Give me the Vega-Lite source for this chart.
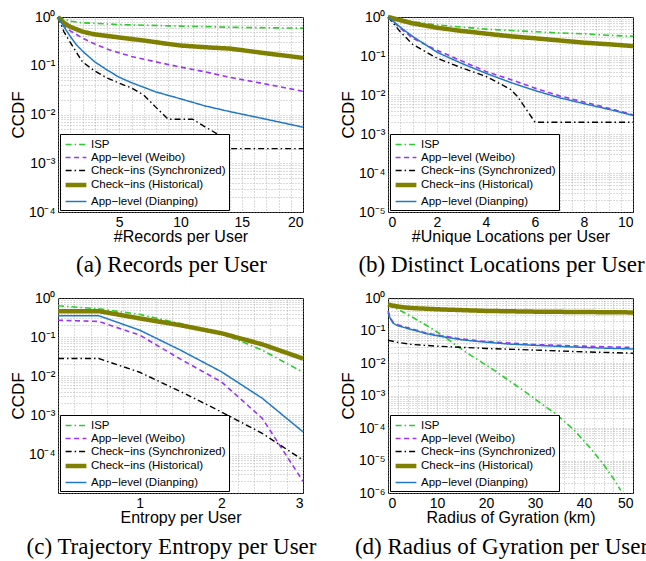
{
  "$schema": "https://vega.github.io/schema/vega-lite/v6.json",
  "padding": {"left": 8, "top": 7, "right": 0, "bottom": 0},
  "background": "white",
  "datasets": {
    "a": [
      {"s": "ISP", "x": 0, "y": 1}, {"s": "ISP", "x": 1, "y": 0.82}, {"s": "ISP", "x": 2, "y": 0.76}, {"s": "ISP", "x": 5, "y": 0.7}, {"s": "ISP", "x": 10, "y": 0.65}, {"s": "ISP", "x": 15, "y": 0.61}, {"s": "ISP", "x": 20, "y": 0.59},
      {"s": "App−level (Weibo)", "x": 0, "y": 1}, {"s": "App−level (Weibo)", "x": 0.7, "y": 0.58}, {"s": "App−level (Weibo)", "x": 1, "y": 0.52}, {"s": "App−level (Weibo)", "x": 2, "y": 0.37}, {"s": "App−level (Weibo)", "x": 3, "y": 0.28}, {"s": "App−level (Weibo)", "x": 4, "y": 0.22}, {"s": "App−level (Weibo)", "x": 6, "y": 0.155}, {"s": "App−level (Weibo)", "x": 8, "y": 0.12}, {"s": "App−level (Weibo)", "x": 10, "y": 0.094}, {"s": "App−level (Weibo)", "x": 12, "y": 0.075}, {"s": "App−level (Weibo)", "x": 14, "y": 0.058}, {"s": "App−level (Weibo)", "x": 17, "y": 0.042}, {"s": "App−level (Weibo)", "x": 20, "y": 0.03},
      {"s": "Check−ins (Synchronized)", "x": 0, "y": 1}, {"s": "Check−ins (Synchronized)", "x": 0.5, "y": 0.49}, {"s": "Check−ins (Synchronized)", "x": 1, "y": 0.3}, {"s": "Check−ins (Synchronized)", "x": 2, "y": 0.12}, {"s": "Check−ins (Synchronized)", "x": 3, "y": 0.078}, {"s": "Check−ins (Synchronized)", "x": 4, "y": 0.056}, {"s": "Check−ins (Synchronized)", "x": 5, "y": 0.044}, {"s": "Check−ins (Synchronized)", "x": 6, "y": 0.035}, {"s": "Check−ins (Synchronized)", "x": 7, "y": 0.025}, {"s": "Check−ins (Synchronized)", "x": 8, "y": 0.014}, {"s": "Check−ins (Synchronized)", "x": 9, "y": 0.008}, {"s": "Check−ins (Synchronized)", "x": 11, "y": 0.008}, {"s": "Check−ins (Synchronized)", "x": 12, "y": 0.0056}, {"s": "Check−ins (Synchronized)", "x": 13, "y": 0.004}, {"s": "Check−ins (Synchronized)", "x": 14, "y": 0.002}, {"s": "Check−ins (Synchronized)", "x": 20, "y": 0.002},
      {"s": "Check−ins (Historical)", "x": 0, "y": 1}, {"s": "Check−ins (Historical)", "x": 0.5, "y": 0.75}, {"s": "Check−ins (Historical)", "x": 1, "y": 0.63}, {"s": "Check−ins (Historical)", "x": 2, "y": 0.5}, {"s": "Check−ins (Historical)", "x": 3, "y": 0.44}, {"s": "Check−ins (Historical)", "x": 5, "y": 0.38}, {"s": "Check−ins (Historical)", "x": 7, "y": 0.33}, {"s": "Check−ins (Historical)", "x": 9, "y": 0.28}, {"s": "Check−ins (Historical)", "x": 10, "y": 0.26}, {"s": "Check−ins (Historical)", "x": 12, "y": 0.24}, {"s": "Check−ins (Historical)", "x": 14, "y": 0.225}, {"s": "Check−ins (Historical)", "x": 17, "y": 0.18}, {"s": "Check−ins (Historical)", "x": 20, "y": 0.145},
      {"s": "App−level (Dianping)", "x": 0, "y": 1}, {"s": "App−level (Dianping)", "x": 0.5, "y": 0.62}, {"s": "App−level (Dianping)", "x": 1, "y": 0.4}, {"s": "App−level (Dianping)", "x": 1.5, "y": 0.27}, {"s": "App−level (Dianping)", "x": 2, "y": 0.2}, {"s": "App−level (Dianping)", "x": 3, "y": 0.12}, {"s": "App−level (Dianping)", "x": 4, "y": 0.082}, {"s": "App−level (Dianping)", "x": 5, "y": 0.058}, {"s": "App−level (Dianping)", "x": 6, "y": 0.045}, {"s": "App−level (Dianping)", "x": 8, "y": 0.029}, {"s": "App−level (Dianping)", "x": 10, "y": 0.021}, {"s": "App−level (Dianping)", "x": 12, "y": 0.015}, {"s": "App−level (Dianping)", "x": 14, "y": 0.0115}, {"s": "App−level (Dianping)", "x": 17, "y": 0.008}, {"s": "App−level (Dianping)", "x": 20, "y": 0.0055}
    ],
    "b": [
      {"s": "ISP", "x": 0, "y": 1}, {"s": "ISP", "x": 1, "y": 0.75}, {"s": "ISP", "x": 2, "y": 0.63}, {"s": "ISP", "x": 3, "y": 0.55}, {"s": "ISP", "x": 4, "y": 0.49}, {"s": "ISP", "x": 5, "y": 0.45}, {"s": "ISP", "x": 6, "y": 0.42}, {"s": "ISP", "x": 7, "y": 0.39}, {"s": "ISP", "x": 8, "y": 0.37}, {"s": "ISP", "x": 9, "y": 0.34}, {"s": "ISP", "x": 10, "y": 0.32},
      {"s": "App−level (Weibo)", "x": 0, "y": 1}, {"s": "App−level (Weibo)", "x": 0.5, "y": 0.52}, {"s": "App−level (Weibo)", "x": 1, "y": 0.29}, {"s": "App−level (Weibo)", "x": 2, "y": 0.14}, {"s": "App−level (Weibo)", "x": 3, "y": 0.075}, {"s": "App−level (Weibo)", "x": 4, "y": 0.04}, {"s": "App−level (Weibo)", "x": 5, "y": 0.025}, {"s": "App−level (Weibo)", "x": 6, "y": 0.015}, {"s": "App−level (Weibo)", "x": 7, "y": 0.0095}, {"s": "App−level (Weibo)", "x": 8, "y": 0.0066}, {"s": "App−level (Weibo)", "x": 9, "y": 0.0046}, {"s": "App−level (Weibo)", "x": 10, "y": 0.0031},
      {"s": "Check−ins (Synchronized)", "x": 0, "y": 1}, {"s": "Check−ins (Synchronized)", "x": 0.5, "y": 0.42}, {"s": "Check−ins (Synchronized)", "x": 1, "y": 0.2}, {"s": "Check−ins (Synchronized)", "x": 2, "y": 0.088}, {"s": "Check−ins (Synchronized)", "x": 3, "y": 0.05}, {"s": "Check−ins (Synchronized)", "x": 4, "y": 0.03}, {"s": "Check−ins (Synchronized)", "x": 5, "y": 0.014}, {"s": "Check−ins (Synchronized)", "x": 5.3, "y": 0.009}, {"s": "Check−ins (Synchronized)", "x": 6, "y": 0.002}, {"s": "Check−ins (Synchronized)", "x": 10, "y": 0.002},
      {"s": "Check−ins (Historical)", "x": 0, "y": 1}, {"s": "Check−ins (Historical)", "x": 1, "y": 0.69}, {"s": "Check−ins (Historical)", "x": 2, "y": 0.53}, {"s": "Check−ins (Historical)", "x": 3, "y": 0.44}, {"s": "Check−ins (Historical)", "x": 4, "y": 0.375}, {"s": "Check−ins (Historical)", "x": 5, "y": 0.32}, {"s": "Check−ins (Historical)", "x": 6, "y": 0.285}, {"s": "Check−ins (Historical)", "x": 7, "y": 0.25}, {"s": "Check−ins (Historical)", "x": 8, "y": 0.22}, {"s": "Check−ins (Historical)", "x": 9, "y": 0.2}, {"s": "Check−ins (Historical)", "x": 10, "y": 0.18},
      {"s": "App−level (Dianping)", "x": 0, "y": 1}, {"s": "App−level (Dianping)", "x": 0.5, "y": 0.55}, {"s": "App−level (Dianping)", "x": 1, "y": 0.32}, {"s": "App−level (Dianping)", "x": 2, "y": 0.125}, {"s": "App−level (Dianping)", "x": 3, "y": 0.065}, {"s": "App−level (Dianping)", "x": 4, "y": 0.036}, {"s": "App−level (Dianping)", "x": 5, "y": 0.021}, {"s": "App−level (Dianping)", "x": 6, "y": 0.013}, {"s": "App−level (Dianping)", "x": 7, "y": 0.0085}, {"s": "App−level (Dianping)", "x": 8, "y": 0.006}, {"s": "App−level (Dianping)", "x": 9, "y": 0.0043}, {"s": "App−level (Dianping)", "x": 10, "y": 0.003}
    ],
    "c": [
      {"s": "ISP", "x": 0, "y": 0.63}, {"s": "ISP", "x": 0.5, "y": 0.53}, {"s": "ISP", "x": 1, "y": 0.38}, {"s": "ISP", "x": 1.5, "y": 0.22}, {"s": "ISP", "x": 2, "y": 0.125}, {"s": "ISP", "x": 2.5, "y": 0.046}, {"s": "ISP", "x": 3, "y": 0.0125},
      {"s": "App−level (Weibo)", "x": 0, "y": 0.27}, {"s": "App−level (Weibo)", "x": 0.5, "y": 0.25}, {"s": "App−level (Weibo)", "x": 1, "y": 0.112}, {"s": "App−level (Weibo)", "x": 1.5, "y": 0.027}, {"s": "App−level (Weibo)", "x": 2, "y": 0.0071}, {"s": "App−level (Weibo)", "x": 2.5, "y": 0.00083}, {"s": "App−level (Weibo)", "x": 3, "y": 0.00002},
      {"s": "Check−ins (Synchronized)", "x": 0, "y": 0.028}, {"s": "Check−ins (Synchronized)", "x": 0.5, "y": 0.028}, {"s": "Check−ins (Synchronized)", "x": 1, "y": 0.0125}, {"s": "Check−ins (Synchronized)", "x": 1.5, "y": 0.004}, {"s": "Check−ins (Synchronized)", "x": 2, "y": 0.0012}, {"s": "Check−ins (Synchronized)", "x": 2.5, "y": 0.00034}, {"s": "Check−ins (Synchronized)", "x": 3, "y": 0.00007},
      {"s": "Check−ins (Historical)", "x": 0, "y": 0.46}, {"s": "Check−ins (Historical)", "x": 0.5, "y": 0.46}, {"s": "Check−ins (Historical)", "x": 1, "y": 0.3}, {"s": "Check−ins (Historical)", "x": 1.5, "y": 0.2}, {"s": "Check−ins (Historical)", "x": 2, "y": 0.125}, {"s": "Check−ins (Historical)", "x": 2.5, "y": 0.065}, {"s": "Check−ins (Historical)", "x": 3, "y": 0.028},
      {"s": "App−level (Dianping)", "x": 0, "y": 0.35}, {"s": "App−level (Dianping)", "x": 0.5, "y": 0.35}, {"s": "App−level (Dianping)", "x": 1, "y": 0.15}, {"s": "App−level (Dianping)", "x": 1.5, "y": 0.046}, {"s": "App−level (Dianping)", "x": 2, "y": 0.0129}, {"s": "App−level (Dianping)", "x": 2.5, "y": 0.0027}, {"s": "App−level (Dianping)", "x": 3, "y": 0.00037}
    ],
    "d": [
      {"s": "ISP", "x": 0, "y": 0.62}, {"s": "ISP", "x": 2, "y": 0.45}, {"s": "ISP", "x": 4, "y": 0.31}, {"s": "ISP", "x": 6, "y": 0.21}, {"s": "ISP", "x": 8, "y": 0.14}, {"s": "ISP", "x": 10, "y": 0.09}, {"s": "ISP", "x": 12, "y": 0.057}, {"s": "ISP", "x": 14, "y": 0.034}, {"s": "ISP", "x": 16, "y": 0.021}, {"s": "ISP", "x": 18, "y": 0.0135}, {"s": "ISP", "x": 20, "y": 0.0087}, {"s": "ISP", "x": 22, "y": 0.0055}, {"s": "ISP", "x": 24, "y": 0.0034}, {"s": "ISP", "x": 26, "y": 0.0021}, {"s": "ISP", "x": 28, "y": 0.0013}, {"s": "ISP", "x": 30, "y": 0.00078}, {"s": "ISP", "x": 32, "y": 0.00047}, {"s": "ISP", "x": 34, "y": 0.00029}, {"s": "ISP", "x": 36, "y": 0.00016}, {"s": "ISP", "x": 38, "y": 0.000085}, {"s": "ISP", "x": 40, "y": 0.00004}, {"s": "ISP", "x": 42, "y": 0.000018}, {"s": "ISP", "x": 44, "y": 0.0000075}, {"s": "ISP", "x": 46, "y": 0.0000028}, {"s": "ISP", "x": 47.5, "y": 0.0000012},
      {"s": "App−level (Weibo)", "x": 0, "y": 0.4}, {"s": "App−level (Weibo)", "x": 0.5, "y": 0.25}, {"s": "App−level (Weibo)", "x": 1, "y": 0.18}, {"s": "App−level (Weibo)", "x": 2, "y": 0.15}, {"s": "App−level (Weibo)", "x": 5, "y": 0.11}, {"s": "App−level (Weibo)", "x": 8, "y": 0.082}, {"s": "App−level (Weibo)", "x": 11, "y": 0.068}, {"s": "App−level (Weibo)", "x": 15, "y": 0.055}, {"s": "App−level (Weibo)", "x": 19, "y": 0.047}, {"s": "App−level (Weibo)", "x": 25, "y": 0.041}, {"s": "App−level (Weibo)", "x": 30, "y": 0.037}, {"s": "App−level (Weibo)", "x": 40, "y": 0.033}, {"s": "App−level (Weibo)", "x": 50, "y": 0.03},
      {"s": "Check−ins (Synchronized)", "x": 0, "y": 0.05}, {"s": "Check−ins (Synchronized)", "x": 2, "y": 0.043}, {"s": "Check−ins (Synchronized)", "x": 5, "y": 0.037}, {"s": "Check−ins (Synchronized)", "x": 10, "y": 0.033}, {"s": "Check−ins (Synchronized)", "x": 20, "y": 0.028}, {"s": "Check−ins (Synchronized)", "x": 30, "y": 0.025}, {"s": "Check−ins (Synchronized)", "x": 40, "y": 0.022}, {"s": "Check−ins (Synchronized)", "x": 50, "y": 0.02},
      {"s": "Check−ins (Historical)", "x": 0, "y": 0.63}, {"s": "Check−ins (Historical)", "x": 1, "y": 0.58}, {"s": "Check−ins (Historical)", "x": 3, "y": 0.52}, {"s": "Check−ins (Historical)", "x": 5, "y": 0.49}, {"s": "Check−ins (Historical)", "x": 10, "y": 0.45}, {"s": "Check−ins (Historical)", "x": 20, "y": 0.4}, {"s": "Check−ins (Historical)", "x": 30, "y": 0.38}, {"s": "Check−ins (Historical)", "x": 40, "y": 0.37}, {"s": "Check−ins (Historical)", "x": 50, "y": 0.36},
      {"s": "App−level (Dianping)", "x": 0, "y": 0.35}, {"s": "App−level (Dianping)", "x": 0.5, "y": 0.23}, {"s": "App−level (Dianping)", "x": 1, "y": 0.17}, {"s": "App−level (Dianping)", "x": 2, "y": 0.14}, {"s": "App−level (Dianping)", "x": 5, "y": 0.105}, {"s": "App−level (Dianping)", "x": 8, "y": 0.079}, {"s": "App−level (Dianping)", "x": 11, "y": 0.065}, {"s": "App−level (Dianping)", "x": 15, "y": 0.052}, {"s": "App−level (Dianping)", "x": 19, "y": 0.045}, {"s": "App−level (Dianping)", "x": 25, "y": 0.038}, {"s": "App−level (Dianping)", "x": 30, "y": 0.035}, {"s": "App−level (Dianping)", "x": 40, "y": 0.03}, {"s": "App−level (Dianping)", "x": 50, "y": 0.027}
    ]
  },
  "columns": 2,
  "spacing": {"row": 86, "column": 85},
  "bounds": "flush",
  "concat": [
    {
      "width": 245, "height": 195,
      "data": {"name": "a"},
      "title": {"text": "(a)  Records per User", "orient": "bottom", "frame": "group", "dx": -9, "offset": 10},
      "mark": {"type": "line"},
      "encoding": {
        "x": {"field": "x", "type": "quantitative", "scale": {"domain": [0, 20], "nice": false, "zero": false},
          "axis": {"title": "#Records per User", "values": [0,1,2,3,4,5,6,7,8,9,10,11,12,13,14,15,16,17,18,19,20], "labelExpr": "datum.value > 0 && datum.value % 5 == 0 ? '' + datum.value : ''"}},
        "y": {"field": "y", "type": "quantitative", "scale": {"type": "log", "domain": [0.0001, 1], "nice": false},
          "axis": {"title": "CCDF", "values": [0.0001,0.0002,0.0003,0.0004,0.0005,0.0006,0.0007,0.0008,0.0009,0.001,0.002,0.003,0.004,0.005,0.006,0.007,0.008,0.009,0.01,0.02,0.03,0.04,0.05,0.06,0.07,0.08,0.09,0.1,0.2,0.3,0.4,0.5,0.6,0.7,0.8,0.9,1],
            "labelExpr": "abs(log(datum.value)/LN10 - round(log(datum.value)/LN10)) < 0.01 ? '10' + ['⁰','⁻¹','⁻²','⁻³','⁻⁴','⁻⁵','⁻⁶'][-round(log(datum.value)/LN10)] : ''"}},
        "color": {"field": "s", "type": "nominal", "scale": {"domain": ["ISP", "App−level (Weibo)", "Check−ins (Synchronized)", "Check−ins (Historical)", "App−level (Dianping)"], "range": ["#2ccc2c", "#9a35f5", "#000000", "#808000", "#2179c6"]}, "legend": {"title": null, "orient": "bottom-left"}},
        "strokeDash": {"field": "s", "type": "nominal", "scale": {"domain": ["ISP", "App−level (Weibo)", "Check−ins (Synchronized)", "Check−ins (Historical)", "App−level (Dianping)"], "range": [[6,3,1.5,3], [5,3.5], [6,3,1.5,3], [1,0], [1,0]]}, "legend": {"title": null, "orient": "bottom-left"}},
        "strokeWidth": {"field": "s", "type": "nominal", "scale": {"type": "ordinal", "domain": ["ISP", "App−level (Weibo)", "Check−ins (Synchronized)", "Check−ins (Historical)", "App−level (Dianping)"], "range": [1.6, 1.6, 1.4, 4.5, 1.5]}, "legend": {"title": null, "orient": "bottom-left"}}
      }
    },
    {
      "width": 245, "height": 195,
      "data": {"name": "b"},
      "title": {"text": "(b)  Distinct Locations per User", "orient": "bottom", "frame": "group", "dx": -9, "offset": 10},
      "mark": {"type": "line"},
      "encoding": {
        "x": {"field": "x", "type": "quantitative", "scale": {"domain": [0, 10], "nice": false, "zero": false},
          "axis": {"title": "#Unique Locations per User", "values": [0,0.5,1,1.5,2,2.5,3,3.5,4,4.5,5,5.5,6,6.5,7,7.5,8,8.5,9,9.5,10], "labelExpr": "datum.value % 2 == 0 ? '' + datum.value : ''"}},
        "y": {"field": "y", "type": "quantitative", "scale": {"type": "log", "domain": [0.00001, 1], "nice": false},
          "axis": {"title": "CCDF", "values": [0.00001,0.00002,0.00003,0.00004,0.00005,0.00006,0.00007,0.00008,0.00009,0.0001,0.0002,0.0003,0.0004,0.0005,0.0006,0.0007,0.0008,0.0009,0.001,0.002,0.003,0.004,0.005,0.006,0.007,0.008,0.009,0.01,0.02,0.03,0.04,0.05,0.06,0.07,0.08,0.09,0.1,0.2,0.3,0.4,0.5,0.6,0.7,0.8,0.9,1],
            "labelExpr": "abs(log(datum.value)/LN10 - round(log(datum.value)/LN10)) < 0.01 ? '10' + ['⁰','⁻¹','⁻²','⁻³','⁻⁴','⁻⁵','⁻⁶'][-round(log(datum.value)/LN10)] : ''"}},
        "color": {"field": "s", "type": "nominal", "scale": {"domain": ["ISP", "App−level (Weibo)", "Check−ins (Synchronized)", "Check−ins (Historical)", "App−level (Dianping)"], "range": ["#2ccc2c", "#9a35f5", "#000000", "#808000", "#2179c6"]}, "legend": {"title": null, "orient": "bottom-left"}},
        "strokeDash": {"field": "s", "type": "nominal", "scale": {"domain": ["ISP", "App−level (Weibo)", "Check−ins (Synchronized)", "Check−ins (Historical)", "App−level (Dianping)"], "range": [[6,3,1.5,3], [5,3.5], [6,3,1.5,3], [1,0], [1,0]]}, "legend": {"title": null, "orient": "bottom-left"}},
        "strokeWidth": {"field": "s", "type": "nominal", "scale": {"type": "ordinal", "domain": ["ISP", "App−level (Weibo)", "Check−ins (Synchronized)", "Check−ins (Historical)", "App−level (Dianping)"], "range": [1.6, 1.6, 1.4, 4.5, 1.5]}, "legend": {"title": null, "orient": "bottom-left"}}
      }
    },
    {
      "width": 245, "height": 195,
      "data": {"name": "c"},
      "title": {"text": "(c)  Trajectory Entropy per User", "orient": "bottom", "frame": "group", "dx": -9, "offset": 11},
      "mark": {"type": "line"},
      "encoding": {
        "x": {"field": "x", "type": "quantitative", "scale": {"domain": [0, 3], "nice": false, "zero": false},
          "axis": {"title": "Entropy per User", "values": [0,0.2,0.4,0.6,0.8,1,1.2,1.4,1.6,1.8,2,2.2,2.4,2.6,2.8,3], "labelExpr": "datum.value == 1 || datum.value == 2 || datum.value == 3 ? '' + datum.value : ''"}},
        "y": {"field": "y", "type": "quantitative", "scale": {"type": "log", "domain": [0.00001, 1], "nice": false},
          "axis": {"title": "CCDF", "values": [0.00001,0.00002,0.00003,0.00004,0.00005,0.00006,0.00007,0.00008,0.00009,0.0001,0.0002,0.0003,0.0004,0.0005,0.0006,0.0007,0.0008,0.0009,0.001,0.002,0.003,0.004,0.005,0.006,0.007,0.008,0.009,0.01,0.02,0.03,0.04,0.05,0.06,0.07,0.08,0.09,0.1,0.2,0.3,0.4,0.5,0.6,0.7,0.8,0.9,1],
            "labelExpr": "datum.value > 0.00002 && abs(log(datum.value)/LN10 - round(log(datum.value)/LN10)) < 0.01 ? '10' + ['⁰','⁻¹','⁻²','⁻³','⁻⁴','⁻⁵','⁻⁶'][-round(log(datum.value)/LN10)] : ''"}},
        "color": {"field": "s", "type": "nominal", "scale": {"domain": ["ISP", "App−level (Weibo)", "Check−ins (Synchronized)", "Check−ins (Historical)", "App−level (Dianping)"], "range": ["#2ccc2c", "#9a35f5", "#000000", "#808000", "#2179c6"]}, "legend": {"title": null, "orient": "bottom-left"}},
        "strokeDash": {"field": "s", "type": "nominal", "scale": {"domain": ["ISP", "App−level (Weibo)", "Check−ins (Synchronized)", "Check−ins (Historical)", "App−level (Dianping)"], "range": [[6,3,1.5,3], [5,3.5], [6,3,1.5,3], [1,0], [1,0]]}, "legend": {"title": null, "orient": "bottom-left"}},
        "strokeWidth": {"field": "s", "type": "nominal", "scale": {"type": "ordinal", "domain": ["ISP", "App−level (Weibo)", "Check−ins (Synchronized)", "Check−ins (Historical)", "App−level (Dianping)"], "range": [1.6, 1.6, 1.4, 4.5, 1.5]}, "legend": {"title": null, "orient": "bottom-left"}}
      }
    },
    {
      "width": 245, "height": 195,
      "data": {"name": "d"},
      "title": {"text": "(d)  Radius of Gyration per User", "orient": "bottom", "frame": "group", "dx": -9, "offset": 11},
      "mark": {"type": "line"},
      "encoding": {
        "x": {"field": "x", "type": "quantitative", "scale": {"domain": [0, 50], "nice": false, "zero": false},
          "axis": {"title": "Radius of Gyration (km)", "values": [0,2,4,6,8,10,12,14,16,18,20,22,24,26,28,30,32,34,36,38,40,42,44,46,48,50], "labelExpr": "datum.value % 10 == 0 ? '' + datum.value : ''"}},
        "y": {"field": "y", "type": "quantitative", "scale": {"type": "log", "domain": [0.000001, 1], "nice": false},
          "axis": {"title": "CCDF", "values": [0.000001,0.000002,0.000003,0.000004,0.000005,0.000006,0.000007,0.000008,0.000009,0.00001,0.00002,0.00003,0.00004,0.00005,0.00006,0.00007,0.00008,0.00009,0.0001,0.0002,0.0003,0.0004,0.0005,0.0006,0.0007,0.0008,0.0009,0.001,0.002,0.003,0.004,0.005,0.006,0.007,0.008,0.009,0.01,0.02,0.03,0.04,0.05,0.06,0.07,0.08,0.09,0.1,0.2,0.3,0.4,0.5,0.6,0.7,0.8,0.9,1],
            "labelExpr": "abs(log(datum.value)/LN10 - round(log(datum.value)/LN10)) < 0.01 ? '10' + ['⁰','⁻¹','⁻²','⁻³','⁻⁴','⁻⁵','⁻⁶'][-round(log(datum.value)/LN10)] : ''"}},
        "color": {"field": "s", "type": "nominal", "scale": {"domain": ["ISP", "App−level (Weibo)", "Check−ins (Synchronized)", "Check−ins (Historical)", "App−level (Dianping)"], "range": ["#2ccc2c", "#9a35f5", "#000000", "#808000", "#2179c6"]}, "legend": {"title": null, "orient": "bottom-left"}},
        "strokeDash": {"field": "s", "type": "nominal", "scale": {"domain": ["ISP", "App−level (Weibo)", "Check−ins (Synchronized)", "Check−ins (Historical)", "App−level (Dianping)"], "range": [[6,3,1.5,3], [5,3.5], [6,3,1.5,3], [1,0], [1,0]]}, "legend": {"title": null, "orient": "bottom-left"}},
        "strokeWidth": {"field": "s", "type": "nominal", "scale": {"type": "ordinal", "domain": ["ISP", "App−level (Weibo)", "Check−ins (Synchronized)", "Check−ins (Historical)", "App−level (Dianping)"], "range": [1.6, 1.6, 1.4, 4.5, 1.5]}, "legend": {"title": null, "orient": "bottom-left"}}
      }
    }
  ],
  "resolve": {"scale": {"color": "independent", "strokeDash": "independent", "strokeWidth": "independent", "x": "independent", "y": "independent"}, "legend": {"color": "independent", "strokeDash": "independent", "strokeWidth": "independent"}},
  "config": {
    "view": {"stroke": "black", "strokeWidth": 1},
    "axis": {"labelFont": "Liberation Sans", "titleFont": "Liberation Sans", "labelFontSize": 14, "titleFontSize": 16, "titleFontWeight": "normal", "labelColor": "black", "titleColor": "black", "grid": true, "gridColor": "#9a9a9a", "gridDash": [1, 2], "gridWidth": 0.7, "domain": false, "ticks": false, "labelOverlap": false, "labelPadding": 3},
    "axisX": {"titlePadding": -1},
    "axisY": {"titleFontSize": 17, "titlePadding": 1},
    "legend": {"labelFont": "Liberation Sans", "labelFontSize": 11.5, "labelColor": "black", "strokeColor": "black", "fillColor": "white", "padding": 3, "offset": 2, "rowPadding": 0, "symbolType": "M-1.6,0H1.6", "symbolSize": 169, "symbolOffset": 4, "labelOffset": 6, "labelLimit": 200},
    "title": {"font": "Liberation Serif", "fontSize": 23, "fontWeight": "normal", "color": "black"}
  }
}
